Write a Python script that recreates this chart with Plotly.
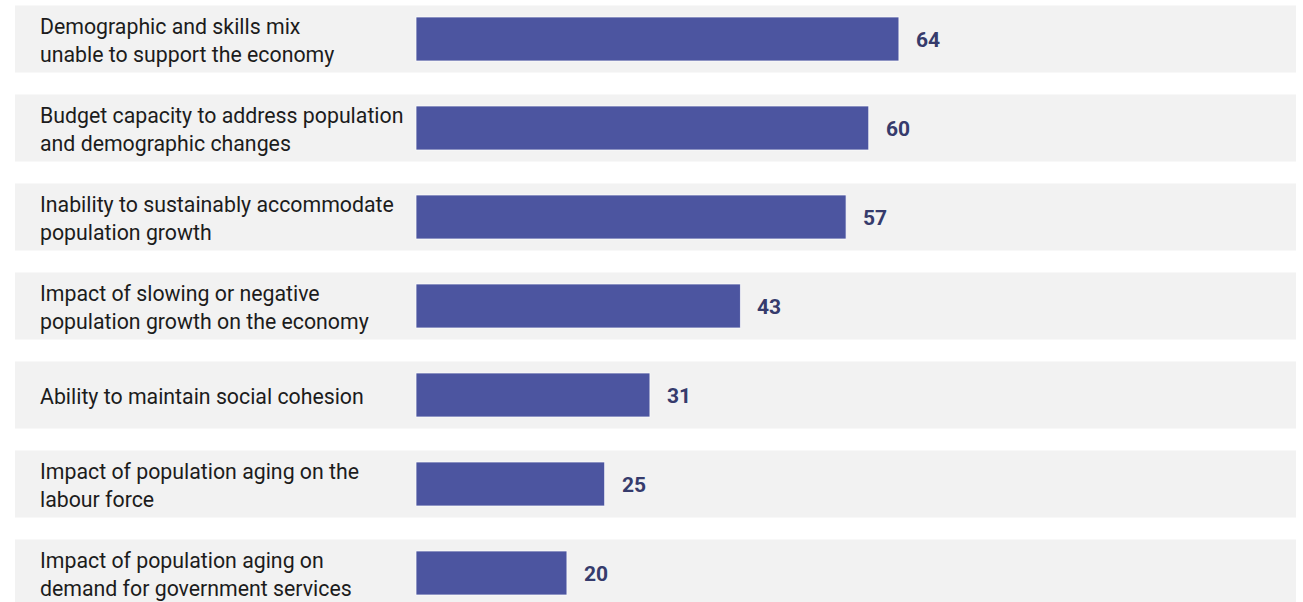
import plotly.graph_objects as go

# Survey results: share of respondents (%) per concern
categories = [
    "Demographic and skills mix<br>unable to support the economy",
    "Budget capacity to address population<br>and demographic changes",
    "Inability to sustainably accommodate<br>population growth",
    "Impact of slowing or negative<br>population growth on the economy",
    "Ability to maintain social cohesion",
    "Impact of population aging on the<br>labour force",
    "Impact of population aging on<br>demand for government services",
]
values = [64, 60, 57, 43, 31, 25, 20]

W, H = 1303, 602
BAR_COLOR = "#4c55a0"
BAND_COLOR = "#f2f2f2"
VALUE_COLOR = "#363b6c"
TEXT_COLOR = "#1c1c1c"

rows = list(range(len(categories)))

fig = go.Figure(
    go.Bar(
        x=values,
        y=rows,
        orientation="h",
        width=0.494,
        marker=dict(color=BAR_COLOR, line=dict(color="rgba(255,255,255,0.7)", width=1)),
        hoverinfo="skip",
    )
)

shapes = []
annotations = []
for i, (cat, v) in enumerate(zip(categories, values)):
    # light grey band behind each row
    shapes.append(dict(
        type="rect", xref="paper", yref="y",
        x0=15 / W, x1=1296 / W, y0=i - 0.376, y1=i + 0.376,
        fillcolor=BAND_COLOR, line=dict(width=0), layer="below",
    ))
    # row label
    annotations.append(dict(
        xref="paper", yref="y", x=38 / W, y=i, text=cat,
        xanchor="left", yanchor="middle", align="left", showarrow=False,
        yshift=-2,
        font=dict(family="Roboto", size=21.3, color=TEXT_COLOR),
    ))
    # value label
    annotations.append(dict(
        xref="x", yref="y", x=v, y=i, text=f"<b>{v}</b>",
        xanchor="left", yanchor="middle", xshift=15, yshift=-1, showarrow=False,
        font=dict(family="Roboto", size=21, color=VALUE_COLOR),
    ))

fig.update_layout(
    width=W, height=H,
    margin=dict(l=0, r=0, t=0, b=0),
    paper_bgcolor="white", plot_bgcolor="white",
    showlegend=False,
    shapes=shapes, annotations=annotations,
    xaxis=dict(range=[-55.14, 117.56], visible=False, fixedrange=True),
    yaxis=dict(range=[6.326, -0.438], visible=False, fixedrange=True),
)

fig.write_html("out.html", config={"displayModeBar": False})
